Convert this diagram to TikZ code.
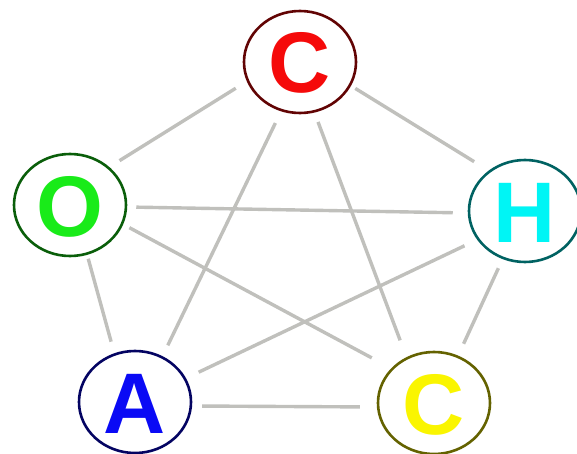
\documentclass[tikz,border=0pt]{standalone}
\usepackage{fontspec}
\setmainfont{Liberation Sans}
\usetikzlibrary{shapes.geometric}
\definecolor{edgegray}{RGB}{192,192,188}
\definecolor{ogreen}{RGB}{25,235,25}
\definecolor{ocyan}{RGB}{0,245,245}
\definecolor{oyellow}{RGB}{250,245,0}
\definecolor{oblue}{RGB}{10,10,245}
\definecolor{ored}{RGB}{245,10,10}
\begin{document}
\begin{tikzpicture}[x=1pt,y=-1pt,
  atom/.style={ellipse, draw=#1!40!black, line width=2.6pt, fill=white,
    minimum width=112pt, minimum height=102pt, inner sep=0pt, text=#1,
    font=\fontsize{86}{86}\selectfont\bfseries, text height=62pt, text depth=0pt},
  bond/.style={draw=edgegray, line width=3.4pt}]
\clip (0,0) rectangle (577,454);
\fill[white] (0,0) rectangle (577,454);
\node[atom=ored]    (C1) at (300,62)  {C};
\node[atom=ogreen]  (O)  at (70,205)  {O};
\node[atom=ocyan]   (H)  at (525,211) {H};
\node[atom=oblue]   (A)  at (135,402) {A};
\node[atom=oyellow] (C2) at (434,403) {C};
\draw[bond, shorten <=13pt, shorten >=12pt] (C1.200) -- (O.44);
\draw[bond, shorten <=5pt, shorten >=17pt] (C1.335) -- (H.132);
\draw[bond, shorten <=13pt, shorten >=12pt] (C1.249) -- (A.59);
\draw[bond, shorten <=10pt, shorten >=18pt] (C1.286) -- (C2.121);
\draw[bond, shorten <=9pt, shorten >=15pt] (O.358) -- (H.182);
\draw[bond, shorten <=7pt, shorten >=22pt] (O.340) -- (C2.141);
\draw[bond, shorten <=4pt, shorten >=12pt] (O.289) -- (A.113);
\draw[bond, shorten <=14pt, shorten >=14pt] (H.211) -- (A.25);
\draw[bond, shorten <=10pt, shorten >=13pt] (H.245) -- (C2.63);
\draw[bond, shorten <=10pt, shorten >=17pt] (A.356) -- (C2.184);
\end{tikzpicture}
\end{document}
